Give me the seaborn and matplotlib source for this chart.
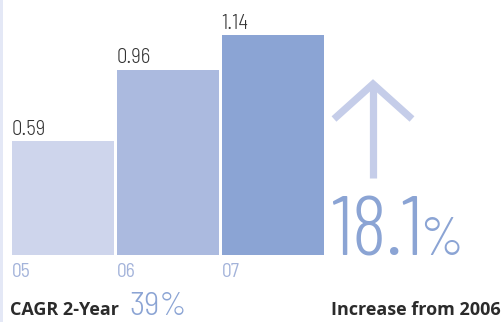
import matplotlib
matplotlib.use("Agg")
import matplotlib.pyplot as plt
import seaborn as sns
import pandas as pd
from matplotlib.lines import Line2D

# ---- data ----
years = ["05", "06", "07"]
values = [0.59, 0.96, 1.14]
value_labels = ["0.59", "0.96", "1.14"]
bar_colors = ["#ced5ec", "#abbadf", "#8ba4d4"]
increase_value = "18.1"
increase_unit = "%"
cagr_label = "CAGR 2-Year"
cagr_value = "39%"
increase_label = "Increase from 2006"

sns.set_theme(style="white")
plt.rcParams["font.family"] = ["Barlow", "DejaVu Sans"]

W, H = 503, 322
fig = plt.figure(figsize=(W / 100, H / 100), dpi=100)
fig.patch.set_facecolor("white")

# bar axes
px_per_unit = 193
ax = fig.add_axes([10.5 / W, 67 / H, 315 / W, 1.2 * px_per_unit / H])
df = pd.DataFrame({"year": years, "value": values})
sns.barplot(data=df, x="year", y="value", hue="year", palette=bar_colors,
            saturation=1, width=0.98, legend=False, ax=ax, edgecolor="none")
ax.set_xlim(-0.5, 2.5)
ax.set_ylim(0, 1.2)
ax.axis("off")

num_font = ["Barlow Semi Condensed", "DejaVu Sans"]
for i, (v, lab) in enumerate(zip(values, value_labels)):
    ax.annotate(lab, xy=(i - 0.49, v), xytext=(0, 4.5), textcoords="offset points",
                ha="left", va="baseline", fontsize=15, fontweight=300,
                family=num_font, color="#333333")
    ax.annotate(years[i], xy=(i - 0.49, 0), xytext=(0.5, -16), textcoords="offset points",
                ha="left", va="baseline", fontsize=14, fontweight=400,
                family=num_font, color="#a3b3da")

# overlay axes in pixel coordinates for decorations
ov = fig.add_axes([0, 0, 1, 1])
ov.set_xlim(0, W)
ov.set_ylim(H, 0)
ov.axis("off")
ov.patch.set_alpha(0)

# left strip
ov.add_patch(plt.Rectangle((0, 0), 3.5, H, color="#e4e8f6", lw=0))

# arrow
arrow_c = "#c5cde9"
ov.add_line(Line2D([373, 373], [83, 178], color=arrow_c, lw=5.2, solid_capstyle="butt"))
ov.add_line(Line2D([334, 373, 412], [119, 84, 119], color=arrow_c, lw=5.2,
                   solid_capstyle="butt", solid_joinstyle="miter"))

# big number
big_c = "#8ba4d4"
ov.text(331, 255, increase_value, ha="left", va="baseline", fontsize=60,
        fontweight=300, family=["Barlow Condensed", "DejaVu Sans"], color=big_c)
ov.text(464, 255, increase_unit, ha="right", va="baseline", fontsize=39,
        fontweight=300, family=["Barlow Semi Condensed", "DejaVu Sans"], color=big_c)

# bottom labels
ov.text(10, 315, cagr_label, ha="left", va="baseline", fontsize=13,
        fontweight="bold", family=["Open Sans", "DejaVu Sans"], color="#2b2b2b")
ov.text(129, 315, cagr_value, ha="left", va="baseline", fontsize=24,
        fontweight=300, family=num_font, color=big_c)
ov.text(501, 315, increase_label, ha="right", va="baseline", fontsize=13,
        fontweight="bold", family=["Open Sans", "DejaVu Sans"], color="#2b2b2b")

fig.savefig("out.png", dpi=100, facecolor="white")
